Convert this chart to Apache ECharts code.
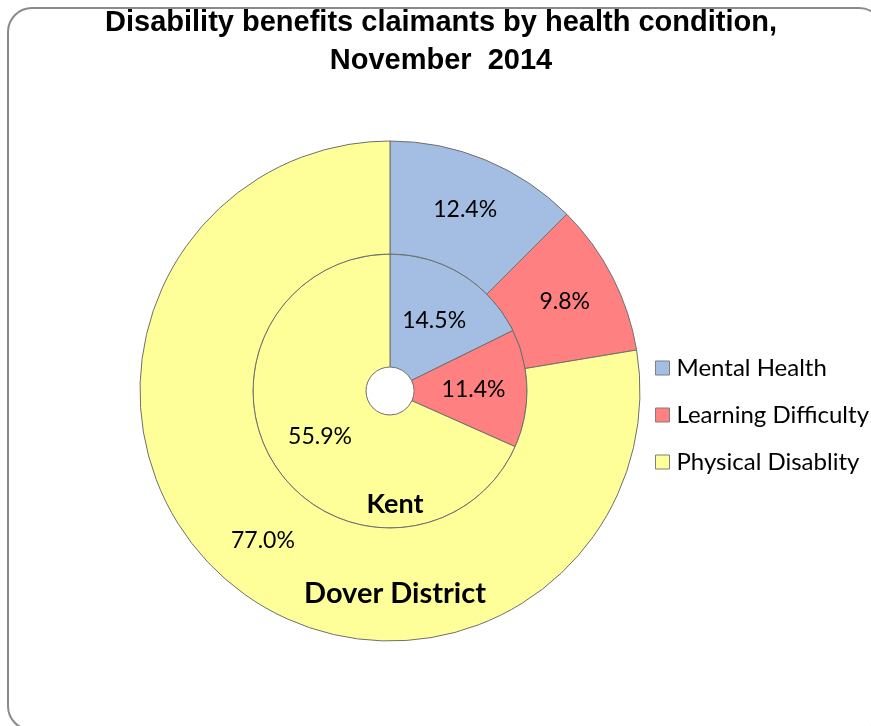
<!DOCTYPE html>
<html>
<head>
<meta charset="utf-8">
<script src="https://cdn.jsdelivr.net/npm/echarts@6/dist/echarts.min.js"></script>
<style>
html,body{margin:0;padding:0;background:#fff;}
#chart{width:871px;height:726px;}
</style>
</head>
<body>
<div id="chart"></div>
<script>
const titleText = 'Disability benefits claimants by health condition,\nNovember  2014';
const categories = ['Mental Health', 'Learning Difficulty', 'Physical Disablity'];
const kentValues = [14.5, 11.4, 55.9];
const doverValues = [12.4, 9.8, 77.0];
const innerName = 'Kent';
const outerName = 'Dover District';
const colors = ['#A3BEE2', '#FF8080', '#FFFF99'];

const chart = echarts.init(document.getElementById('chart'), null, {renderer: 'canvas'});

const labelFont = 'Lato';
function mk(values) {
  return categories.map((c, i) => ({name: c, value: values[i]}));
}
const sliceStyle = {borderColor: '#6e6e6e', borderWidth: 1};
const lbl = {
  show: true,
  position: 'inside',
  formatter: p => p.value.toFixed(1) + '%',
  fontFamily: labelFont,
  fontSize: 23,
  color: '#000'
};

chart.setOption({
  animation: false,
  color: colors,
  title: {
    text: titleText,
    left: 441,
    textAlign: 'center',
    top: 4,
    padding: 0,
    textStyle: {
      fontFamily: 'Liberation Sans',
      fontWeight: 'bold',
      fontSize: 29,
      lineHeight: 38,
      color: '#000'
    }
  },
  legend: {
    orient: 'vertical',
    left: 655,
    top: 356,
    padding: 0,
    itemWidth: 14,
    itemHeight: 14,
    itemGap: 23,
    icon: 'rect',
    data: categories,
    itemStyle: {borderColor: '#7f7f7f', borderWidth: 1},
    textStyle: {fontFamily: labelFont, fontSize: 24, lineHeight: 24, color: '#000', padding: [0, 0, 0, 2]}
  },
  graphic: [
    {
      type: 'rect',
      shape: {x: 8, y: 8, width: 875, height: 722, r: 24},
      style: {fill: 'none', stroke: '#8a8a8a', lineWidth: 2},
      silent: true, z: -1
    },
    {
      type: 'text',
      style: {text: innerName, x: 395, y: 504, textAlign: 'center', textVerticalAlign: 'middle',
        font: 'bold 27px Lato', fill: '#000'},
      z: 100
    },
    {
      type: 'text',
      style: {text: outerName, x: 395, y: 594, textAlign: 'center', textVerticalAlign: 'middle',
        font: 'bold 29px Lato', fill: '#000'},
      z: 100
    }
  ],
  series: [
    {
      name: innerName,
      type: 'pie',
      center: [390, 391],
      radius: [24, 137],
      startAngle: 90,
      clockwise: true,
      avoidLabelOverlap: false,
      label: lbl,
      labelLine: {show: false},
      itemStyle: sliceStyle,
      emphasis: {disabled: true},
      data: mk(kentValues)
    },
    {
      name: outerName,
      type: 'pie',
      center: [390, 391],
      radius: [137, 250],
      startAngle: 90,
      clockwise: true,
      avoidLabelOverlap: false,
      label: lbl,
      labelLine: {show: false},
      itemStyle: sliceStyle,
      emphasis: {disabled: true},
      data: mk(doverValues)
    }
  ]
});
</script>
</body>
</html>
